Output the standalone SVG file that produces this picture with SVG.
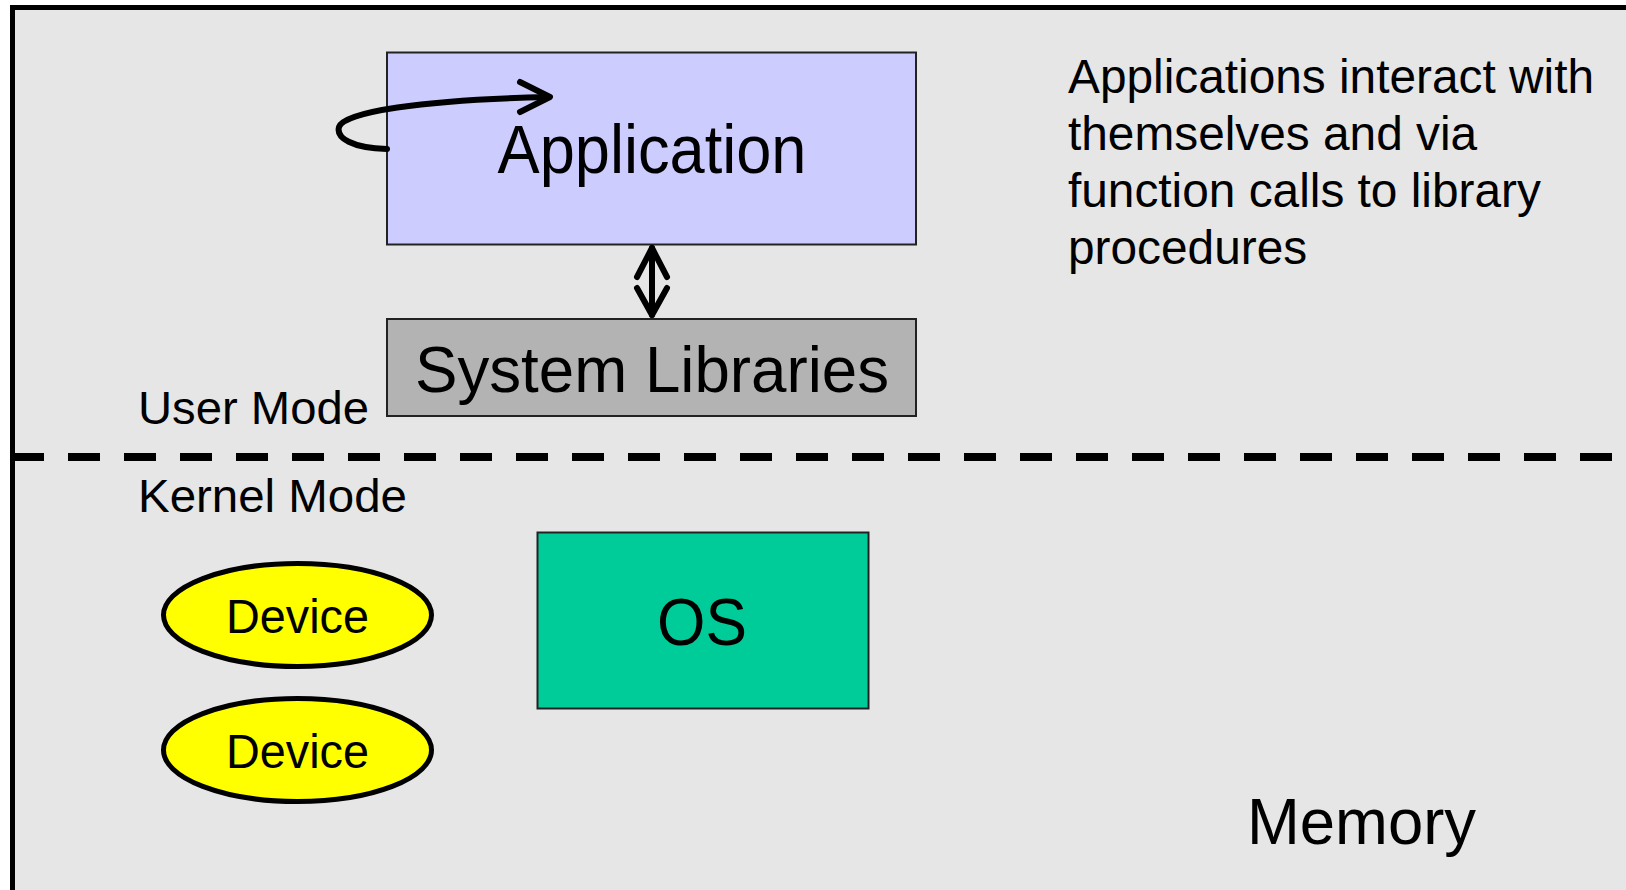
<svg xmlns="http://www.w3.org/2000/svg" width="1626" height="890" viewBox="0 0 1626 890">
  <style>
    text { font-family: "Liberation Sans", Arial, Helvetica, sans-serif; fill: #000; }
    .box { stroke: #222; stroke-width: 2; }
    .dev { fill: #ffff00; stroke: #000; stroke-width: 5; }
    .conn { fill: none; stroke: #000; stroke-width: 6; stroke-linecap: round; stroke-linejoin: round; }
  </style>
  <rect x="0" y="0" width="1626" height="890" fill="#ffffff"/>
  <g id="frame">
    <rect x="12" y="7" width="1614" height="883" fill="#e6e6e6"/>
    <line x1="12" y1="7.5" x2="1626" y2="7.5" stroke="#000" stroke-width="5"/>
    <line x1="12.5" y1="5" x2="12.5" y2="890" stroke="#000" stroke-width="5"/>
    <line x1="12" y1="457" x2="1626" y2="457" stroke="#000" stroke-width="8" stroke-dasharray="32 24"/>
  </g>
  <g id="application">
    <rect class="box" x="387" y="52.5" width="529" height="192" fill="#ccccff"/>
    <text x="652" y="173" font-size="68" text-anchor="middle" textLength="309" lengthAdjust="spacingAndGlyphs">Application</text>
  </g>
  <g id="system-libraries">
    <rect class="box" x="387" y="319" width="529" height="97" fill="#b3b3b3"/>
    <text x="652" y="392" font-size="65" text-anchor="middle" textLength="474" lengthAdjust="spacingAndGlyphs">System Libraries</text>
  </g>
  <g id="os">
    <rect class="box" x="537.5" y="532.5" width="331" height="176" fill="#00cc99"/>
    <text x="702" y="645" font-size="66" text-anchor="middle" textLength="90" lengthAdjust="spacingAndGlyphs">OS</text>
  </g>
  <g id="device-1">
    <ellipse class="dev" cx="297.5" cy="615" rx="134" ry="51.5"/>
    <text x="297.5" y="633" font-size="49" text-anchor="middle" textLength="143" lengthAdjust="spacingAndGlyphs">Device</text>
  </g>
  <g id="device-2">
    <ellipse class="dev" cx="297.5" cy="750" rx="134" ry="51.5"/>
    <text x="297.5" y="768" font-size="49" text-anchor="middle" textLength="143" lengthAdjust="spacingAndGlyphs">Device</text>
  </g>
  <g id="labels">
    <text x="138" y="423.5" font-size="47" textLength="231" lengthAdjust="spacingAndGlyphs">User Mode</text>
    <text x="138" y="512" font-size="47" textLength="269" lengthAdjust="spacingAndGlyphs">Kernel Mode</text>
    <text x="1247" y="844" font-size="65" textLength="229" lengthAdjust="spacingAndGlyphs">Memory</text>
    <text font-size="47.8">
      <tspan x="1068" y="93">Applications interact with</tspan>
      <tspan x="1068" y="150">themselves and via</tspan>
      <tspan x="1068" y="207">function calls to library</tspan>
      <tspan x="1068" y="263.5">procedures</tspan>
    </text>
  </g>
  <g id="connectors">
    <path class="conn" d="M 387 149 C 352 148 336 138 339 127 C 344 112 420 100 548 97"/>
    <path class="conn" d="M 520 82 L 550 97 L 520 112"/>
    <line class="conn" x1="652" y1="248" x2="652" y2="315"/>
    <path class="conn" d="M 637 277 L 652 248 L 667 277"/>
    <path class="conn" d="M 637 288 L 652 315 L 667 288"/>
  </g>
</svg>
